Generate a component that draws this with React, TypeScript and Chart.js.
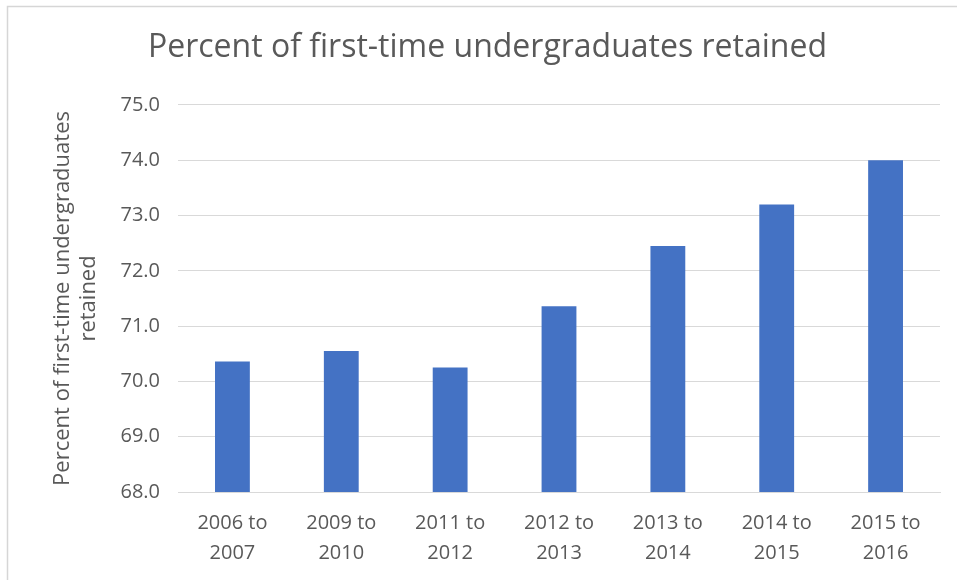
import React, { useEffect, useRef } from "react";
import { Chart, registerables } from "chart.js";

Chart.register(...registerables);

const categories: string[][] = [
  ["2006 to", "2007"],
  ["2009 to", "2010"],
  ["2011 to", "2012"],
  ["2012 to", "2013"],
  ["2013 to", "2014"],
  ["2014 to", "2015"],
  ["2015 to", "2016"],
];
const retained: number[] = [70.36, 70.55, 70.25, 71.36, 72.45, 73.2, 74.0];
const chartTitle = "Percent of first-time undergraduates retained";
const yAxisTitle = ["Percent of first-time undergraduates", "retained"];
const yMin = 68;
const yMax = 75;

const FONT = "'Open Sans', sans-serif";
const TEXT = "#595959";
const GRID = "#d9d9d9";

const borderPlugin = {
  id: "frameBorder",
  beforeDraw(chart: any) {
    const ctx = chart.ctx;
    ctx.save();
    ctx.fillStyle = "#ffffff";
    ctx.fillRect(0, 0, chart.width, chart.height);
    ctx.strokeStyle = "#d6d6d6";
    ctx.lineWidth = 1.5;
    ctx.beginPath();
    ctx.moveTo(7.5, chart.height);
    ctx.lineTo(7.5, 6.5);
    ctx.lineTo(chart.width, 6.5);
    ctx.stroke();
    ctx.restore();
  },
};

export default function App() {
  const ref = useRef<HTMLCanvasElement | null>(null);
  useEffect(() => {
    if (!ref.current) return;
    const chart = new Chart(ref.current, {
      type: "bar",
      data: {
        labels: categories,
        datasets: [
          {
            label: "Retained",
            data: retained,
            backgroundColor: "#4472C4",
            borderWidth: 0,
            barPercentage: 0.32,
            categoryPercentage: 1,
          },
        ],
      },
      options: {
        animation: false,
        responsive: false,
        devicePixelRatio: 1,
        layout: { padding: { left: 35, right: 17, top: 0, bottom: 0 } },
        plugins: {
          legend: { display: false },
          tooltip: { enabled: false },
          title: {
            display: true,
            text: chartTitle,
            color: TEXT,
            font: { family: FONT, size: 32, weight: "normal", lineHeight: 1.2 },
            padding: { top: 28.5, bottom: 38 },
          },
        },
        scales: {
          x: {
            grid: { display: false, drawTicks: false },
            border: { display: true, color: GRID, width: 1 },
            ticks: {
              color: TEXT,
              font: { family: FONT, size: 20, lineHeight: 1.5 },
              padding: 16,
              maxRotation: 0,
              autoSkip: false,
            },
            afterFit(scale: any) {
              scale.height = 88;
            },
          },
          y: {
            min: yMin,
            max: yMax,
            grid: { color: GRID, lineWidth: 1, drawTicks: false },
            border: { display: false },
            ticks: {
              stepSize: 1,
              color: TEXT,
              font: { family: FONT, size: 20 },
              padding: 18,
              callback: (v: any) => Number(v).toFixed(1),
            },
            title: {
              display: true,
              text: yAxisTitle,
              color: TEXT,
              font: { family: FONT, size: 22, lineHeight: 1.15 },
              padding: { top: 15.5, bottom: 0 },
            },
            afterFit(scale: any) {
              scale.width = 143;
            },
          },
        },
      },
      plugins: [borderPlugin],
    });
    return () => chart.destroy();
  }, []);
  return (
    <div style={{ position: "fixed", left: 0, top: 0, width: 957, height: 580, background: "#fff" }}>
      <canvas ref={ref} width={957} height={580} style={{ display: "block" }} />
    </div>
  );
}
